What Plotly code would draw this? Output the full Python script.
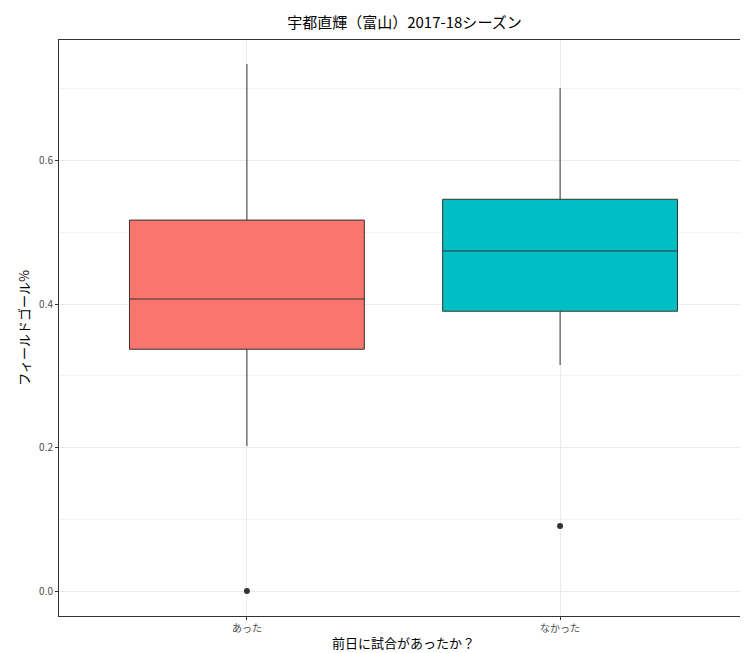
import plotly.graph_objects as go

categories = ["あった", "なかった"]
lower = [0.202, 0.315]
q1 = [0.337, 0.390]
median = [0.407, 0.474]
q3 = [0.517, 0.546]
upper = [0.7345, 0.701]
colors = ["#F8766D", "#00BFC4"]
outliers = [0.0, 0.0906]

fig = go.Figure()
for i, c in enumerate(categories):
    fig.add_trace(go.Box(
        x=[i + 1], q1=[q1[i]], median=[median[i]], q3=[q3[i]],
        lowerfence=[lower[i]], upperfence=[upper[i]],
        fillcolor=colors[i], line=dict(color="#333333", width=1),
        width=0.75, whiskerwidth=0, showlegend=False, hoverinfo="skip"))
fig.add_trace(go.Scatter(x=[1, 2], y=outliers, mode="markers",
                         marker=dict(color="#333333", size=6), showlegend=False))

fig.update_layout(
    width=748, height=653, plot_bgcolor="white", paper_bgcolor="white",
    margin=dict(l=51, r=8, t=32, b=45),
    font=dict(family="Noto Sans CJK JP", color="black"),
    title=dict(text="宇都直輝（富山）2017-18シーズン", x=0.53, xanchor="center",
               y=0.985, yanchor="top", font=dict(size=15)),
    xaxis=dict(range=[0.4, 2.6], tickvals=[1, 2], ticktext=categories,
               title=dict(text="前日に試合があったか？", font=dict(size=13), standoff=4),
               showgrid=True, gridcolor="#EBEBEB", showline=True, mirror=True,
               linecolor="#333333", ticks="outside", ticklen=3, tickcolor="#333333",
               tickfont=dict(size=10, color="#4D4D4D"), zeroline=False),
    yaxis=dict(range=[-0.0348, 0.768], tickvals=[0, 0.2, 0.4, 0.6],
               ticktext=["0.0", "0.2", "0.4", "0.6"],
               title=dict(text="フィールドゴール%", font=dict(size=13), standoff=6),
               showgrid=True, gridcolor="#EBEBEB", showline=True, mirror=True,
               linecolor="#333333", ticks="outside", ticklen=3, tickcolor="#333333",
               tickfont=dict(size=10, color="#4D4D4D"), zeroline=False,
               minor=dict(tickvals=[0.1, 0.3, 0.5, 0.7], showgrid=True,
                          gridcolor="#F3F3F3", ticks="")),
)
fig.write_html("out.html")
